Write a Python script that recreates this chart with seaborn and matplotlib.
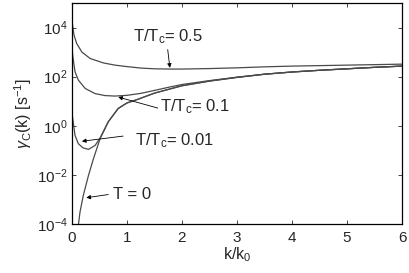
import numpy as np
import pandas as pd
import matplotlib
matplotlib.use('Agg')
import matplotlib.pyplot as plt
import seaborn as sns

# curves: k/k0 and log10 of gamma_C
k_05 = [0.005, 0.013, 0.036, 0.085, 0.18, 0.33, 0.57, 0.78, 1.0, 1.25, 1.5, 1.78, 2.0,
        2.5, 3.0, 3.5, 4.0, 4.5, 5.0, 5.5, 6.0]
lg_05 = [4.2, 4.05, 3.7, 3.35, 3.0, 2.74, 2.56, 2.47, 2.41, 2.35, 2.32, 2.31, 2.31,
         2.33, 2.36, 2.40, 2.43, 2.45, 2.47, 2.49, 2.51]

k_01 = [0.005, 0.013, 0.055, 0.115, 0.24, 0.42, 0.6, 0.78, 1.0, 1.25, 1.5, 1.78, 2.0,
        2.5, 3.0, 3.5, 4.0, 4.5, 5.0, 5.5, 6.0]
lg_01 = [3.1, 2.85, 2.2, 1.86, 1.52, 1.31, 1.23, 1.21, 1.24, 1.32, 1.44, 1.58, 1.68,
         1.84, 1.98, 2.10, 2.19, 2.26, 2.32, 2.38, 2.43]

k_001 = [0.005, 0.013, 0.055, 0.115, 0.2, 0.3, 0.42, 0.51, 0.66, 0.84, 1.0, 1.2, 1.5,
         2.0, 2.5, 3.0, 3.5, 4.0, 4.5, 5.0, 5.5, 6.0]
lg_001 = [0.45, 0.3, -0.39, -0.73, -0.9, -0.96, -0.8, -0.5, 0.17, 0.71, 0.93, 1.08, 1.33,
          1.63, 1.82, 1.97, 2.10, 2.19, 2.26, 2.32, 2.38, 2.43]

k_0 = [0.1, 0.115, 0.145, 0.205, 0.3, 0.39, 0.51, 0.66, 0.84, 1.0, 1.2, 1.5,
       2.0, 2.5, 3.0, 3.5, 4.0, 4.5, 5.0, 5.5, 6.0]
lg_0 = [-4.4, -4.06, -3.52, -2.84, -2.02, -1.34, -0.53, 0.16, 0.7, 0.93, 1.08, 1.33,
        1.63, 1.82, 1.97, 2.10, 2.19, 2.26, 2.32, 2.38, 2.43]

curves = {'0.5': (k_05, lg_05), '0.1': (k_01, lg_01),
          '0.01': (k_001, lg_001), '0': (k_0, lg_0)}

sns.set_style('ticks')
plt.rcParams['font.family'] = ['Liberation Sans', 'DejaVu Sans']
plt.rcParams['mathtext.fontset'] = 'custom'
plt.rcParams['mathtext.rm'] = 'Liberation Sans'
plt.rcParams['mathtext.it'] = 'Liberation Sans:italic'

fig = plt.figure(figsize=(4.09, 2.73), dpi=100)
ax = fig.add_axes([72/409, 1-224/273, 330/409, 221/273])

for name, (kk, lg) in curves.items():
    d = pd.DataFrame({'k': kk, 'g': 10.0**np.array(lg)})
    sns.lineplot(data=d, x='k', y='g', ax=ax, color='#4a4a4a', lw=0.9, sort=False)

ax.set_yscale('log')
ax.set_xlim(0, 6)
ax.set_ylim(1e-4, 1e5)
ax.set_yticks([1e-4, 1e-2, 1e0, 1e2, 1e4])
ax.yaxis.set_minor_locator(matplotlib.ticker.NullLocator())
ax.set_xticks(range(7))
ax.tick_params(direction='in', top=True, right=True, length=3, width=0.6,
               labelsize=11, pad=3)
ax.tick_params(axis='x', pad=5)
for s in ax.spines.values():
    s.set_linewidth(0.9)
    s.set_color('black')

ax.set_xlabel('k/k$_0$', fontsize=11.5, labelpad=0)
ax.set_ylabel(r'$\gamma_{\rm C}$(k) [s$^{-1}$]', fontsize=11.5, labelpad=2)

arrow = dict(arrowstyle='-|>', color='black', lw=0.6, mutation_scale=6,
             shrinkA=0, shrinkB=0)
ax.text(1.11, 10**3.61, 'T/T$_{\\rm c}$= 0.5', fontsize=12, va='center', ha='left')
ax.annotate('', xy=(1.78, 10**2.36), xytext=(1.74, 10**3.1), arrowprops=arrow)
ax.text(1.6, 10**0.76, 'T/T$_{\\rm c}$= 0.1', fontsize=12, va='center', ha='left')
ax.annotate('', xy=(0.84, 10**1.17), xytext=(1.56, 10**0.72), arrowprops=arrow)
ax.text(1.15, 10**-0.59, 'T/T$_{\\rm c}$= 0.01', fontsize=12, va='center', ha='left')
ax.annotate('', xy=(0.18, 10**-0.63), xytext=(0.93, 10**-0.42), arrowprops=arrow)
ax.text(0.745, 10**-2.8, 'T = 0', fontsize=12, va='center', ha='left')
ax.annotate('', xy=(0.26, 10**-2.93), xytext=(0.66, 10**-2.8), arrowprops=arrow)

fig.savefig('out.png', dpi=100)
